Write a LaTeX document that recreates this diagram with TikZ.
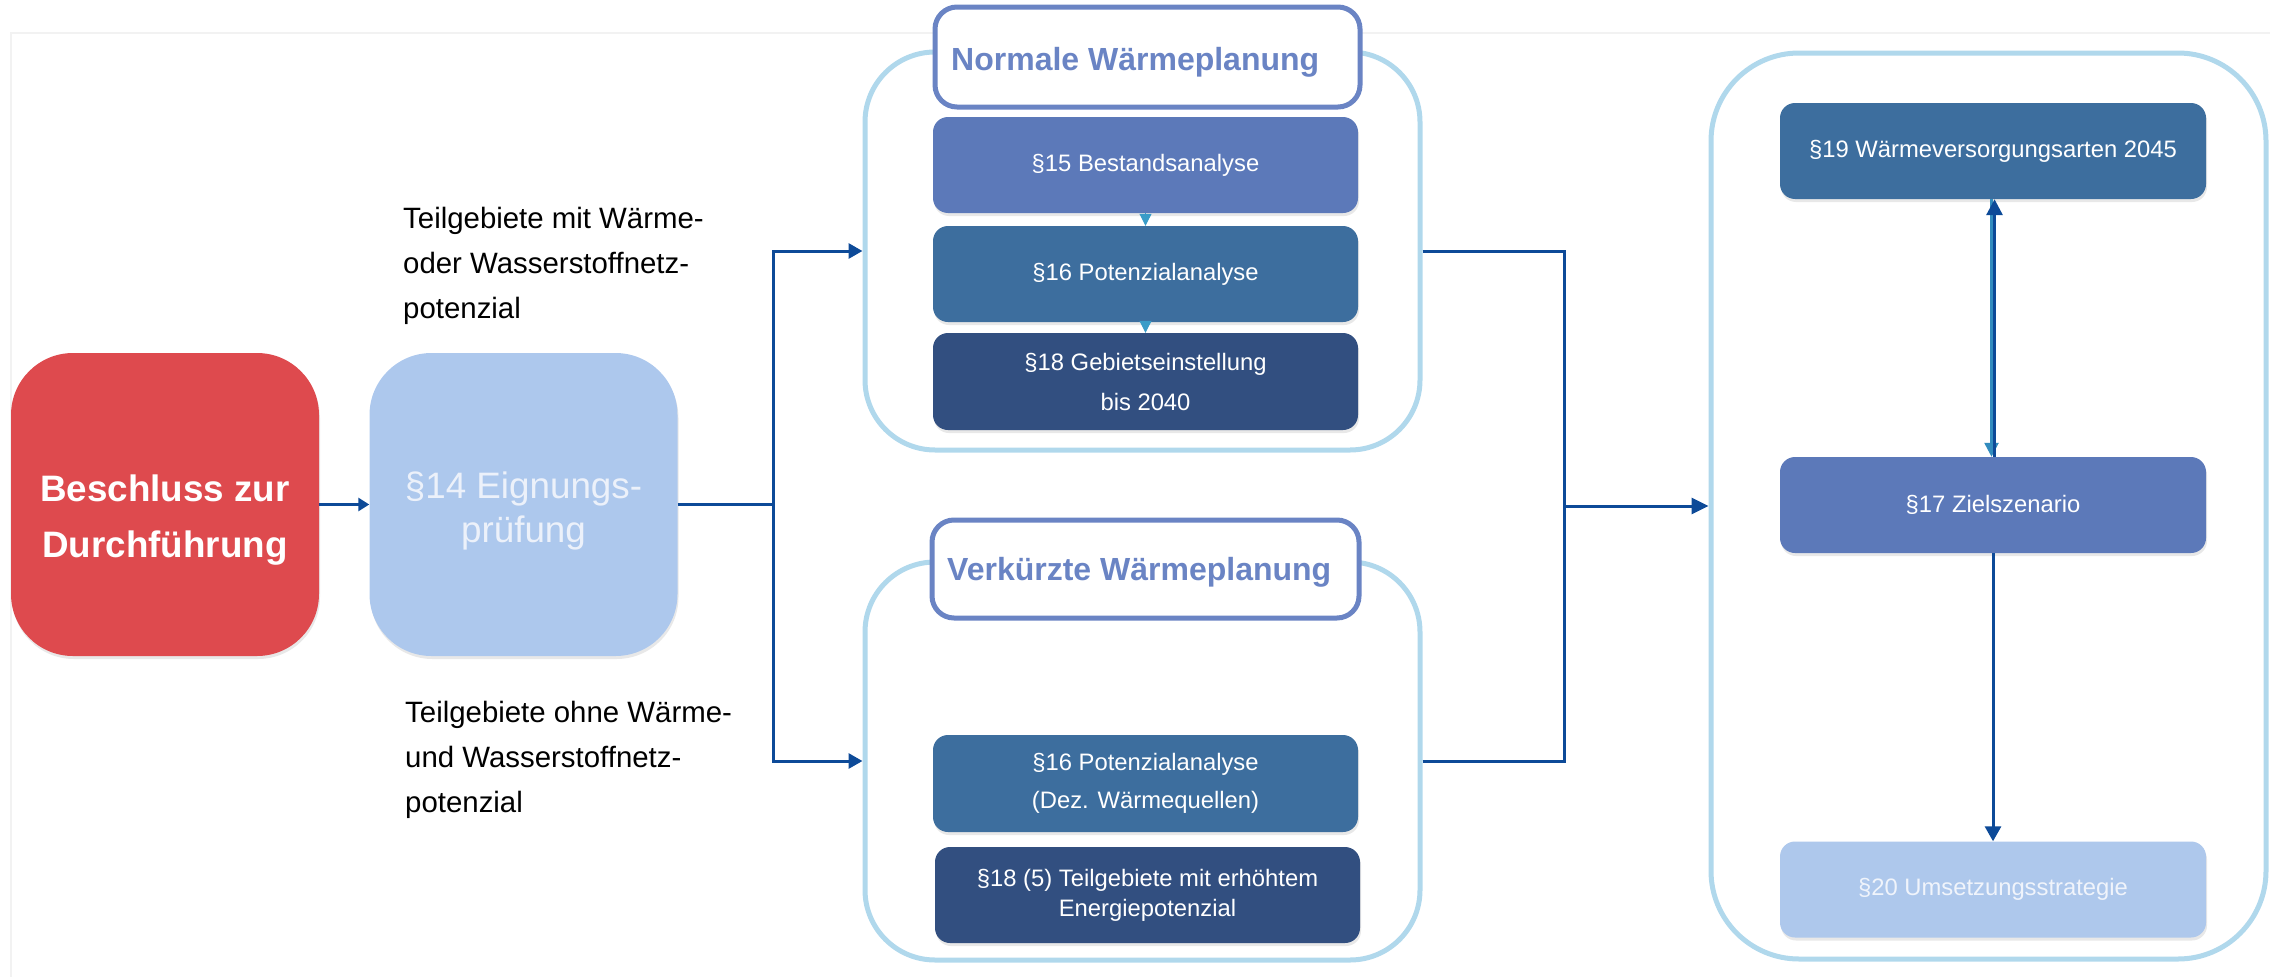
\documentclass[tikz,border=0pt]{standalone}
\usepackage{fontspec}
\setmainfont{Liberation Sans}
\usetikzlibrary{arrows.meta,shadows}
\definecolor{cred}{RGB}{222,74,78}
\definecolor{cbfour}{RGB}{173,200,237}
\definecolor{cfourt}{RGB}{236,241,250}
\definecolor{cpanel}{RGB}{176,216,236}
\definecolor{ctitle}{RGB}{106,132,196}
\definecolor{cA}{RGB}{92,121,185}
\definecolor{cB}{RGB}{61,110,158}
\definecolor{cC}{RGB}{50,79,128}
\definecolor{ctw}{RGB}{174,200,236}
\definecolor{ctwt}{RGB}{240,244,251}
\definecolor{cconn}{RGB}{13,74,152}
\definecolor{cteal}{RGB}{58,156,200}
\definecolor{ctealb}{RGB}{50,140,190}
\begin{document}
\begin{tikzpicture}[x=1pt,y=-1pt,
  shadowed/.style={drop shadow={shadow xshift=1pt, shadow yshift=-3pt, opacity=0.18}},
  bigbox/.style={rounded corners=62pt, minimum width=308pt, minimum height=303pt, inner sep=0pt, shadowed},
  panel/.style={draw=cpanel, line width=5pt, fill=white, inner sep=0pt},
  titlebox/.style={draw=ctitle, line width=5pt, fill=white, rounded corners=22pt, inner sep=0pt},
  titletext/.style={font=\bfseries\fontsize{32}{38}\selectfont, text=ctitle, anchor=base west, inner sep=0pt},
  stepbox/.style={rounded corners=15pt, minimum width=425pt, minimum height=96pt, inner sep=0pt, text=white, align=center, font=\fontsize{23.8}{40}\selectfont, shadowed},
  conn/.style={draw=cconn, line width=3pt},
  tip/.style={-{Triangle[length=14pt,width=15pt]}},
  labeltext/.style={align=left, inner sep=0pt, font=\fontsize{29.4}{45}\selectfont, text=black, anchor=west},
]
\useasboundingbox (0,0) rectangle (2270,977);
\draw[black!5, line width=2pt] (11,977) -- (11,33) -- (2270,33);

% left boxes
\node[bigbox, fill=cred] (red) at (165,504.5) {};
\node[font=\bfseries\fontsize{36.8}{56}\selectfont, text=white, align=center, inner sep=0pt] (redtxt) at (165,520) {Beschluss zur\\Durchführung};
\node[bigbox, fill=cbfour] (bfour) at (523.5,504.5) {};
\node[font=\fontsize{36.8}{44}\selectfont, text=cfourt, align=center, inner sep=0pt] (bfourtxt) at (523.5,511) {§14 Eignungs-\\prüfung};

% labels
\node[labeltext] (labA) at (403,265.4) {Teilgebiete mit Wärme-\\oder Wasserstoffnetz-\\potenzial};
\node[labeltext] (labB) at (405,760) {Teilgebiete ohne Wärme-\\und Wasserstoffnetz-\\potenzial};

% panels
\node[panel, rounded corners=70pt, minimum width=555pt, minimum height=398pt] (pu) at (1142.5,251) {};
\node[panel, rounded corners=70pt, minimum width=555pt, minimum height=398pt] (pl) at (1142.5,761) {};
\node[panel, rounded corners=88pt, minimum width=555pt, minimum height=906pt] (pr) at (1988.5,506) {};

% title boxes
\node[titlebox, minimum width=425pt, minimum height=100pt] (tu) at (1147.5,57) {};
\node[titletext] (tut) at (951,70) {Normale Wärmeplanung};
\node[titlebox, minimum width=427pt, minimum height=98pt] (tl) at (1145.5,569) {};
\node[titletext] (tlt) at (947,580) {Verkürzte Wärmeplanung};

% step boxes
\node[stepbox, fill=cA] (sA) at (1145.5,165) {§15 Bestandsanalyse};
\node[stepbox, fill=cB] (sB) at (1145.5,274) {§16 Potenzialanalyse};
\node[stepbox, fill=cC, minimum height=97pt] (sC) at (1145.5,381.5) {§18 Gebietseinstellung\\bis 2040};
\node[stepbox, fill=cB, minimum height=97pt, font=\fontsize{23.8}{38}\selectfont] (sD) at (1145.5,783.5) {§16 Potenzialanalyse\\(Dez. Wärmequellen)};
\node[stepbox, fill=cC, font=\fontsize{23.8}{30}\selectfont] (sE) at (1147.5,895) {§18 (5) Teilgebiete mit erhöhtem\\Energiepotenzial};
\node[stepbox, fill=cB, minimum width=426pt] (sF) at (1993,151) {§19 Wärmeversorgungsarten 2045};
\node[stepbox, fill=cA, minimum width=426pt] (sG) at (1993,505) {§17 Zielszenario};
\node[stepbox, fill=ctw, text=ctwt, minimum width=426pt] (sH) at (1993,889.5) {§20 Umsetzungsstrategie};

% small teal pointers
\draw[draw=cteal, line width=1pt, -{Triangle[length=12pt,width=12pt]}] (sA.south) -- (sB.north);
\draw[draw=cteal, line width=1pt, -{Triangle[length=12pt,width=12pt]}] (sB.south) -- (sC.north);

% connectors
\draw[conn, -{Triangle[length=11pt,width=13pt]}] (red.east) -- (bfour.west);
\coordinate (jl) at (773,504.5);
\draw[conn] (bfour.east) -- (jl);
\draw[conn, tip] (jl) |- (pu.west);
\draw[conn, tip] (jl) |- (pl.west);
\coordinate (jr) at (1564,506);
\draw[conn] (pu.east) -| (jr);
\draw[conn] (pl.east) -| (jr);
\draw[conn, -{Triangle[length=17pt,width=16pt]}] (jr) -- (pr.west);

\draw[conn, draw=ctealb, line width=2.5pt, -{Triangle[length=14pt,width=14pt]}] ([xshift=-1.5pt]sF.south) -- ([xshift=-1.5pt]sG.north);
\draw[conn, -{Triangle[length=16pt,width=16pt]}] ([xshift=1.5pt]sG.north) -- ([xshift=1.5pt]sF.south);
\draw[conn, -{Triangle[length=15pt,width=16pt]}] (sG.south) -- (sH.north);
\end{tikzpicture}
\end{document}
